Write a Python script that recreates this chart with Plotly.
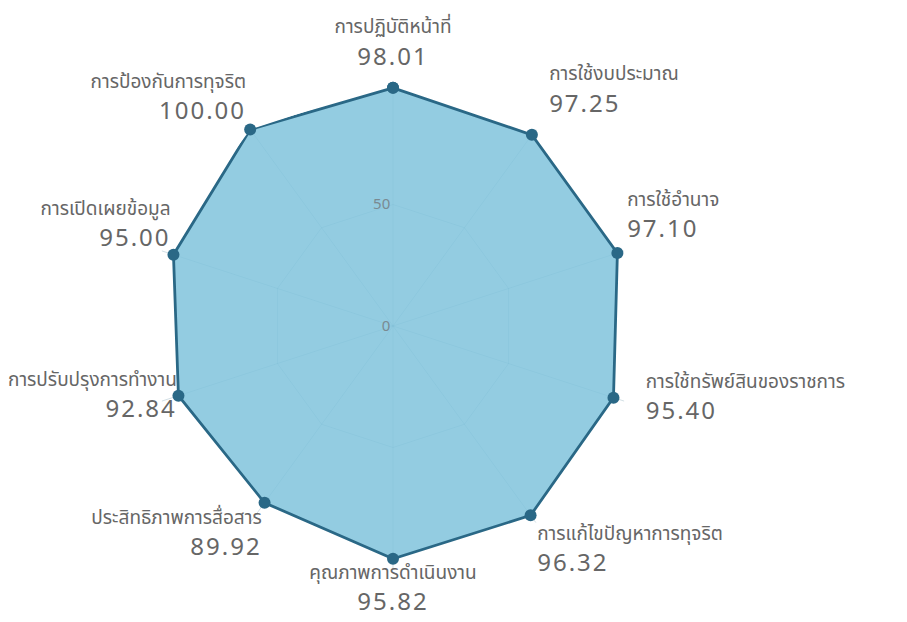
import plotly.graph_objects as go

categories = [
    "การปฏิบัติหน้าที่",
    "การใช้งบประมาณ",
    "การใช้อำนาจ",
    "การใช้ทรัพย์สินของราชการ",
    "การแก้ไขปัญหาการทุจริต",
    "คุณภาพการดำเนินงาน",
    "ประสิทธิภาพการสื่อสาร",
    "การปรับปรุงการทำงาน",
    "การเปิดเผยข้อมูล",
    "การป้องกันการทุจริต",
]
scores = [98.01, 97.25, 97.10, 95.40, 96.32, 95.82, 89.92, 92.84, 95.00, 100.00]
radial_ticks = [0, 50]

# label placement styles (not data)
label_positions = [
    "top center", "top right", "top right", "middle right", "bottom right",
    "bottom center", "bottom left", "middle left", "top left", "top left",
]
label_gap = [26, 26, 14, 50, 9, 2, 3, 1, 3, 5]

FONT = "Noto Sans Thai, Noto Sans, DejaVu Sans, sans-serif"
LINE = "#2a6886"
FILL = "rgba(128,195,220,0.85)"
GRID = "rgba(80,130,155,0.26)"

labels = [
    f"<span style='font-size:19px'>{c}</span><br>"
    f"<span style='font-size:24px;letter-spacing:2px'>{v:.2f}</span>"
    for c, v in zip(categories, scores)
]

fig = go.Figure()
fig.add_trace(go.Scatterpolar(
    r=scores,
    theta=categories,
    mode="markers+text",
    marker=dict(size=label_gap, color="rgba(0,0,0,0)", line=dict(width=0)),
    text=labels,
    textposition=label_positions,
    textfont=dict(family=FONT, size=24, color="#666666"),
    hoverinfo="skip",
    showlegend=False,
    cliponaxis=False,
))
fig.add_trace(go.Scatterpolar(
    r=scores + scores[:1],
    theta=categories + categories[:1],
    mode="lines+markers",
    fill="toself",
    fillcolor=FILL,
    line=dict(color=LINE, width=2.8),
    marker=dict(color=LINE, size=12),
    hoverinfo="skip",
    showlegend=False,
))

fig.update_layout(
    width=907,
    height=622,
    paper_bgcolor="white",
    plot_bgcolor="white",
    margin=dict(l=142, r=279, t=75, b=61),
    font=dict(family=FONT, color="#666666"),
    polar=dict(
        bgcolor="white",
        gridshape="linear",
        domain=dict(x=[0, 1], y=[0, 1]),
        radialaxis=dict(
            range=[0, 100],
            tickvals=radial_ticks,
            ticktext=[str(t) for t in radial_ticks],
            angle=90,
            tickangle=90,
            side="counterclockwise",
            showline=False,
            ticks="",
            gridcolor=GRID,
            gridwidth=1,
            layer="above traces",
            tickfont=dict(family=FONT, size=15, color="#7a8a92"),
        ),
        angularaxis=dict(
            direction="clockwise",
            rotation=90,
            showticklabels=False,
            ticks="",
            showline=False,
            gridcolor=GRID,
            layer="above traces",
        ),
    ),
)

fig.write_html("out.html")
